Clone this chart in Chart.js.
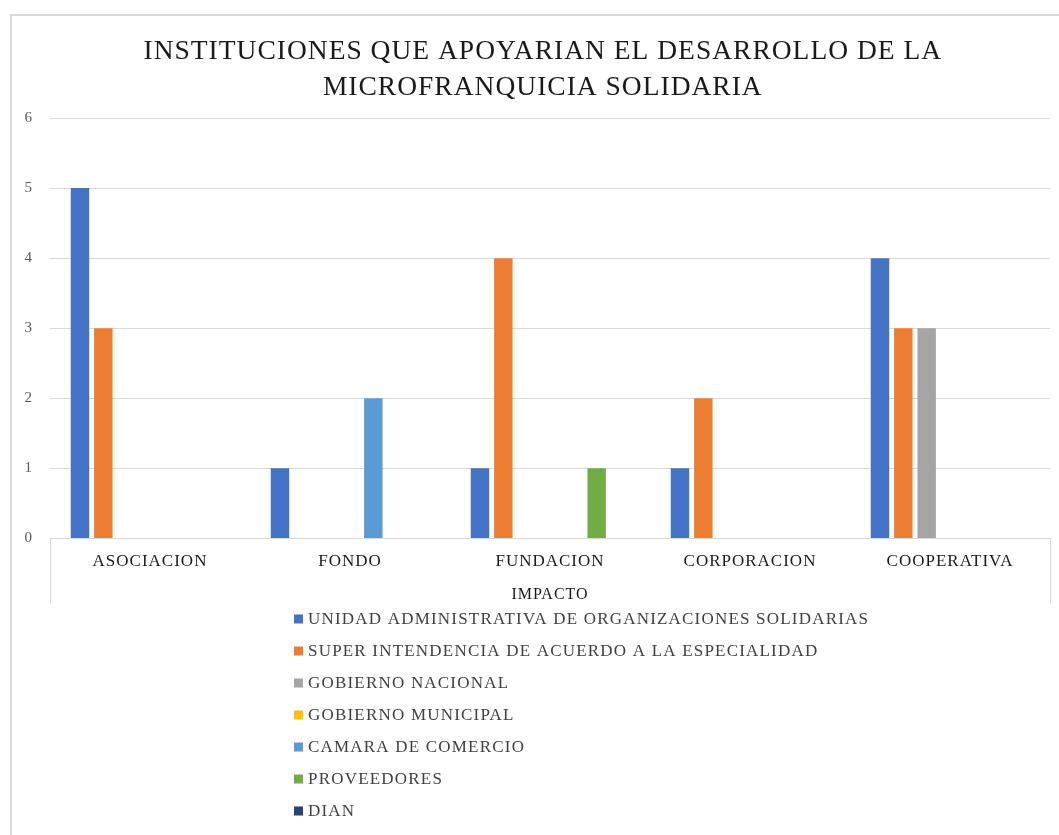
<!DOCTYPE html>
<html>
<head>
<meta charset="utf-8">
<script src="https://cdn.jsdelivr.net/npm/chart.js@4"></script>
<style>
  html, body { margin: 0; padding: 0; background: #fff; }
  #wrap { width: 1059px; height: 835px; position: relative; }
</style>
</head>
<body>
<div id="wrap"><canvas id="myChart"></canvas></div>
<script>
// categories and series
const categories = ['ASOCIACION', 'FONDO', 'FUNDACION', 'CORPORACION', 'COOPERATIVA'];
const seriesNames = [
    'UNIDAD ADMINISTRATIVA DE ORGANIZACIONES SOLIDARIAS',
    'SUPER INTENDENCIA DE ACUERDO A LA ESPECIALIDAD',
    'GOBIERNO NACIONAL',
    'GOBIERNO MUNICIPAL',
    'CAMARA DE COMERCIO',
    'PROVEEDORES',
    'DIAN'
];
const unidadAdmin = [5, 1, 1, 1, 4];
const superIntendencia = [3, 0, 4, 2, 3];
const gobiernoNacional = [0, 0, 0, 0, 3];
const gobiernoMunicipal = [0, 0, 0, 0, 0];
const camaraComercio = [0, 2, 0, 0, 0];
const proveedores = [0, 0, 1, 0, 0];
const dian = [0, 0, 0, 0, 0];
const yTicks = [0, 1, 2, 3, 4, 5, 6];
const titleLines = ['INSTITUCIONES QUE APOYARIAN EL DESARROLLO DE LA', 'MICROFRANQUICIA SOLIDARIA'];

const seriesValues = [unidadAdmin, superIntendencia, gobiernoNacional, gobiernoMunicipal, camaraComercio, proveedores, dian];
const colors = ['#4472C4', '#ED7D31', '#A5A5A5', '#FFC000', '#5B9BD5', '#70AD47', '#264478'];

const serif = '"Liberation Serif", "Times New Roman", serif';

// frame round the chart + the two vertical lines under the category axis
const framePlugin = {
    id: 'frame',
    beforeDraw(chart) {
        const ctx = chart.ctx;
        ctx.save();
        ctx.fillStyle = '#fff';
        ctx.fillRect(0, 0, chart.width, chart.height);
        ctx.strokeStyle = '#d9d9d9';
        ctx.lineWidth = 2;
        ctx.strokeRect(11, 15, chart.width + 20, chart.height + 20);
        ctx.restore();
        // the source text is a bit spaced out
        ctx.letterSpacing = '1px';
    },
    afterDraw(chart) {
        const ctx = chart.ctx;
        const a = chart.chartArea;
        ctx.save();
        ctx.strokeStyle = '#d9d9d9';
        ctx.lineWidth = 1;
        [a.left, a.right].forEach(x => {
            ctx.beginPath();
            ctx.moveTo(Math.round(x) + 0.5, a.bottom);
            ctx.lineTo(Math.round(x) + 0.5, a.bottom + 65);
            ctx.stroke();
        });
        ctx.restore();
    }
};

// vertical legend, left aligned, below the axis
const listLegend = {
    id: 'listLegend',
    afterDraw(chart) {
        const ctx = chart.ctx;
        ctx.save();
        ctx.font = '17px ' + serif;
        ctx.letterSpacing = '1.2px';
        ctx.textBaseline = 'middle';
        chart.data.datasets.forEach((ds, i) => {
            const y = 619 + i * 32;
            ctx.fillStyle = ds.backgroundColor;
            ctx.fillRect(294, y - 4.5, 9, 9);
            ctx.fillStyle = '#404040';
            ctx.fillText(ds.label, 308, y + 1);
        });
        ctx.restore();
    }
};

const config = {
    type: 'bar',
    data: {
        labels: categories,
        datasets: seriesNames.map((name, i) => ({
            label: name,
            data: seriesValues[i],
            backgroundColor: colors[i],
            borderWidth: 0,
            categoryPercentage: 0.8167,
            barPercentage: 0.79
        }))
    },
    options: {
        responsive: true,
        maintainAspectRatio: false,
        animation: false,
        layout: {
            padding: { top: 15, left: 12, right: 9, bottom: 231 }
        },
        scales: {
            y: {
                min: 0,
                max: 6,
                afterBuildTicks: axis => { axis.ticks = yTicks.map(v => ({ value: v })); },
                afterFit: axis => { axis.width = 38; },
                grid: { color: '#d9d9d9', drawTicks: false },
                border: { display: false },
                ticks: {
                    padding: 17,
                    color: '#595959',
                    font: { family: serif, size: 15 }
                }
            },
            x: {
                grid: { display: false, drawTicks: false },
                border: { display: true, color: '#d9d9d9' },
                ticks: {
                    padding: 13,
                    color: '#1a1a1a',
                    font: { family: serif, size: 17 }
                },
                title: {
                    display: true,
                    text: 'IMPACTO',
                    color: '#1a1a1a',
                    padding: { top: 0, bottom: 0 },
                    font: { family: serif, size: 16 }
                }
            }
        },
        plugins: {
            legend: { display: false },
            tooltip: { enabled: false },
            title: {
                display: true,
                // leading spaces nudge the centred title a little to the right, as in the source
                text: titleLines.map(t => '   ' + t),
                color: '#1a1a1a',
                font: { family: serif, size: 27.5, weight: 'normal', lineHeight: 1.31 },
                padding: { top: 19, bottom: 12 }
            }
        }
    },
    plugins: [framePlugin, listLegend]
};

const ctx = document.getElementById('myChart').getContext('2d');
new Chart(ctx, config);
</script>
</body>
</html>
